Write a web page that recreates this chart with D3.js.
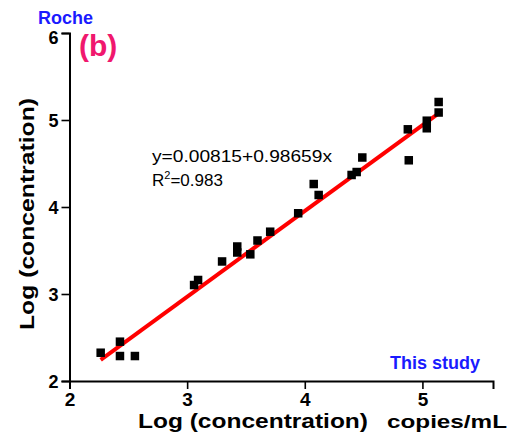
<!DOCTYPE html>
<html>
<head>
<meta charset="utf-8">
<script src="https://cdn.jsdelivr.net/npm/d3@7"></script>
<style>
  body { margin: 0; background: #fff; }
  text { font-family: "Liberation Sans", Arial, sans-serif; }
</style>
</head>
<body>
<div id="chart"></div>
<script>
// log concentration, this study (x) vs Roche (y)
var xVals = [2.265, 2.429, 2.429, 2.556, 3.059, 3.093, 3.297, 3.426, 3.426, 3.537, 3.598, 3.706,
             3.944, 4.076, 4.118, 4.398, 4.441, 4.489, 4.876, 4.884, 5.037, 5.037, 5.138, 5.138];
var yVals = [2.325, 2.452, 2.287, 2.287, 3.103, 3.161, 3.374, 3.546, 3.477, 3.456, 3.615, 3.716,
             3.928, 4.264, 4.138, 4.368, 4.402, 4.569, 4.893, 4.537, 4.992, 4.905, 5.207, 5.086];
var fitIntercept = 0.00815, fitSlope = 0.98659;
var xTicks = [2, 3, 4, 5];
var yTicks = [2, 3, 4, 5, 6];
var eqLabel = "y=0.00815+0.98659x";
var r2Label = "0.983";

var width = 515, height = 438;

var svg = d3.select("#chart")
  .append("svg")
    .attr("width", width)
    .attr("height", height);

var x = d3.scaleLinear().domain([2, 5.6]).range([69.5, 493]);
var y = d3.scaleLinear().domain([2, 6]).range([381, 33]);

// minor ticks spaced like a log decade
function minors(domain) {
  var out = [];
  for (var d = Math.floor(domain[0]); d < domain[1]; d++) {
    for (var k = 2; k <= 9; k++) {
      var v = d + Math.log10(k);
      if (v < domain[1]) out.push(v);
    }
  }
  return out;
}

var xAxisG = svg.append("g").attr("transform", "translate(0," + y(2) + ")");
xAxisG.call(d3.axisBottom(x).tickValues(minors(x.domain())).tickSize(4).tickFormat(""));
xAxisG.call(d3.axisBottom(x).tickValues(xTicks).tickSize(8).tickPadding(4).tickFormat(d3.format("d")));
xAxisG.selectAll(".tick text").style("font-size", "19px");

var yAxisG = svg.append("g").attr("transform", "translate(" + x(2) + ",0)");
yAxisG.call(d3.axisLeft(y).tickValues(minors(y.domain())).tickSize(4).tickFormat(""));
yAxisG.call(d3.axisLeft(y).tickValues(yTicks).tickSize(8).tickPadding(3).tickFormat(d3.format("d")));
yAxisG.selectAll(".tick text").style("font-size", "18px")
  .attr("dy", function(d) { return d === 6 ? "0.6em" : "0.38em"; });

svg.selectAll(".domain").attr("stroke", "#000").attr("stroke-width", 2);
svg.selectAll(".tick line").attr("stroke", "#000").attr("stroke-width", 1.6);
svg.selectAll(".tick text")
  .attr("fill", "#000")
  .style("font-weight", "bold");

// fit line
var xExt = d3.extent(xVals);
svg.append("line")
  .attr("x1", x(xExt[0]))
  .attr("y1", y(fitIntercept + fitSlope * xExt[0]))
  .attr("x2", x(xExt[1]))
  .attr("y2", y(fitIntercept + fitSlope * xExt[1]))
  .attr("stroke", "#ff0000")
  .attr("stroke-width", 4);

var pts = xVals.map(function(v, i) { return { x: v, y: yVals[i] }; });
var sq = 8.5;
svg.append("g")
  .selectAll("rect")
  .data(pts)
  .enter()
  .append("rect")
    .attr("x", function(d) { return x(d.x) - sq / 2; })
    .attr("y", function(d) { return y(d.y) - sq / 2; })
    .attr("width", sq)
    .attr("height", sq)
    .attr("fill", "#000");

// equation
svg.append("text")
  .attr("x", 152).attr("y", 162)
  .attr("textLength", 180).attr("lengthAdjust", "spacingAndGlyphs")
  .style("font-size", "17px")
  .text(eqLabel);

var r2 = svg.append("text")
  .attr("x", 152).attr("y", 186)
  .style("font-size", "17px");
r2.append("tspan").text("R");
r2.append("tspan").attr("dy", -7).style("font-size", "11px").text("2");
r2.append("tspan").attr("dy", 7).text("=" + r2Label);

// titles
svg.append("text")
  .attr("x", 138).attr("y", 428)
  .attr("textLength", 230).attr("lengthAdjust", "spacingAndGlyphs")
  .style("font-size", "21px").style("font-weight", "bold")
  .text("Log (concentration)");

svg.append("text")
  .attr("x", 387).attr("y", 428)
  .attr("textLength", 120).attr("lengthAdjust", "spacingAndGlyphs")
  .style("font-size", "19px").style("font-weight", "bold")
  .text("copies/mL");

svg.append("text")
  .attr("transform", "translate(34,214) rotate(-90)")
  .attr("x", -116).attr("y", 0)
  .attr("textLength", 232).attr("lengthAdjust", "spacingAndGlyphs")
  .style("font-size", "21px").style("font-weight", "bold")
  .text("Log (concentration)");

svg.append("text")
  .attr("x", 38).attr("y", 24)
  .style("font-size", "18px").style("font-weight", "bold")
  .attr("fill", "#1a1aff")
  .text("Roche");

svg.append("text")
  .attr("x", 79).attr("y", 56)
  .style("font-size", "30px").style("font-weight", "bold")
  .attr("fill", "#f0186e")
  .text("(b)");

svg.append("text")
  .attr("x", 390).attr("y", 369)
  .style("font-size", "18px").style("font-weight", "bold")
  .attr("fill", "#1a1aff")
  .text("This study");
</script>
</body>
</html>
